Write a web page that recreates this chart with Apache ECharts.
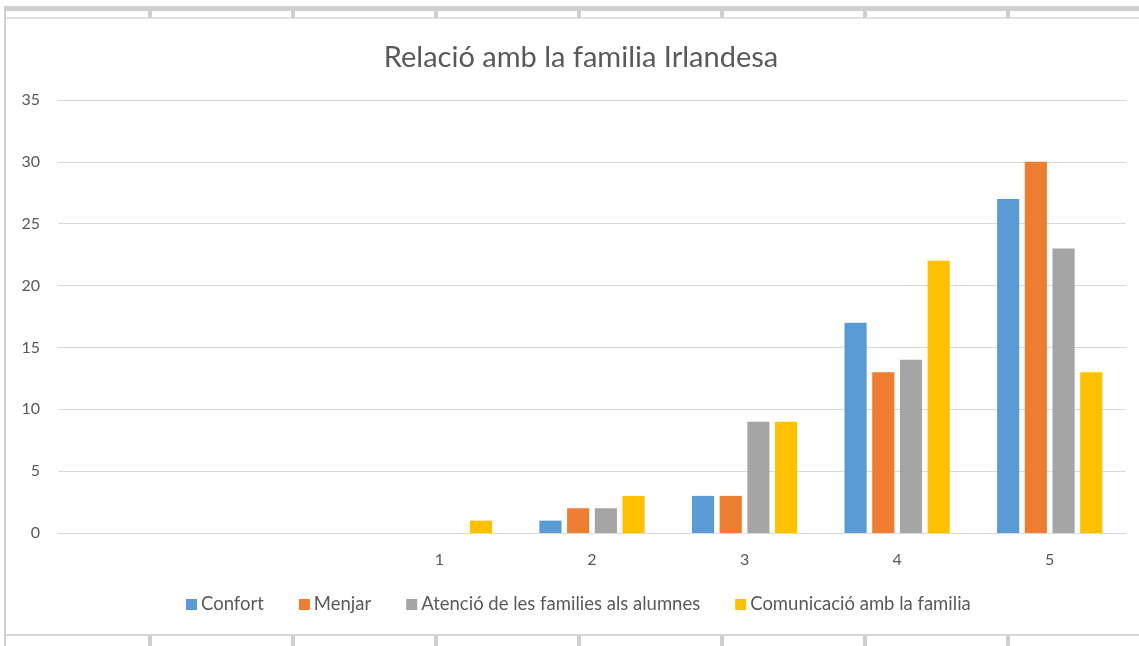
<!DOCTYPE html>
<html>
<head>
<meta charset="utf-8">
<script src="https://cdn.jsdelivr.net/npm/echarts@6/dist/echarts.min.js"></script>
<style>
  html, body { margin: 0; padding: 0; background: #fff; }
  #chart { width: 1139px; height: 646px; }
</style>
</head>
<body>
<div id="chart"></div>
<script>
// categories (first two are empty in the source sheet)
const categories = ['', '', '1', '2', '3', '4', '5']
const confort = [0, 0, 0, 1, 3, 17, 27]
const menjar = [0, 0, 0, 2, 3, 13, 30]
const atencio = [0, 0, 0, 2, 9, 14, 23]
const comunicacio = [0, 0, 1, 3, 9, 22, 13]
const seriesNames = ['Confort', 'Menjar', 'Atenció de les families als alumnes', 'Comunicació amb la familia']

const textColor = '#595959'
const font = 'Lato'

// spreadsheet frame around the chart (decoration only)
const colMarks = [148, 291, 434, 577, 720, 863, 1006]
const frame = [
  { type: 'rect', shape: { x: 5, y: 6, width: 1134, height: 5 }, style: { fill: '#cfcfcf' } },
  { type: 'rect', shape: { x: 5, y: 17, width: 1134, height: 2 }, style: { fill: '#e0e0e0' } },
  { type: 'rect', shape: { x: 4, y: 6, width: 2, height: 640 }, style: { fill: '#cfcfcf' } },
  { type: 'rect', shape: { x: 5, y: 634, width: 1134, height: 2 }, style: { fill: '#d6d6d6' } },
]
colMarks.forEach(x => {
  frame.push({ type: 'rect', shape: { x: x, y: 11, width: 4, height: 7 }, style: { fill: '#cfcfcf' } })
  frame.push({ type: 'rect', shape: { x: x, y: 636, width: 4, height: 10 }, style: { fill: '#cfcfcf' } })
})

const chart = echarts.init(document.querySelector('#chart'))
const option = {
  animation: false,
  color: ['#5B9BD5', '#ED7D31', '#A5A5A5', '#FFC000'],
  textStyle: { fontFamily: font },
  title: {
    text: 'Relació amb la familia Irlandesa',
    left: 576,
    top: 38,
    textAlign: 'center',
    textStyle: { fontFamily: font, fontSize: 29, fontWeight: 'normal', color: textColor },
  },
  legend: {
    data: seriesNames,
    bottom: 27,
    left: 181,
    itemWidth: 11,
    itemHeight: 11,
    itemGap: 35,
    icon: 'rect',
    textStyle: { fontFamily: font, fontSize: 18.5, color: textColor, padding: [0, 0, 0, -1] },
  },
  grid: { left: 58, right: 13, top: 100, bottom: 113 },
  xAxis: {
    type: 'category',
    data: categories,
    axisLine: { lineStyle: { color: '#d9d9d9', width: 1 } },
    axisTick: { show: false },
    axisLabel: { color: textColor, fontSize: 16, margin: 19 },
  },
  yAxis: {
    type: 'value',
    min: 0,
    max: 35,
    interval: 5,
    axisLine: { show: false },
    axisTick: { show: false },
    axisLabel: { color: textColor, fontSize: 16, margin: 18 },
    splitLine: { lineStyle: { color: '#d9d9d9', width: 1 } },
  },
  series: [confort, menjar, atencio, comunicacio].map((d, i) => ({
    name: seriesNames[i],
    type: 'bar',
    data: d,
    barGap: '25%',
    barCategoryGap: '31%',
  })),
  graphic: frame,
}
chart.setOption(option)
</script>
</body>
</html>
